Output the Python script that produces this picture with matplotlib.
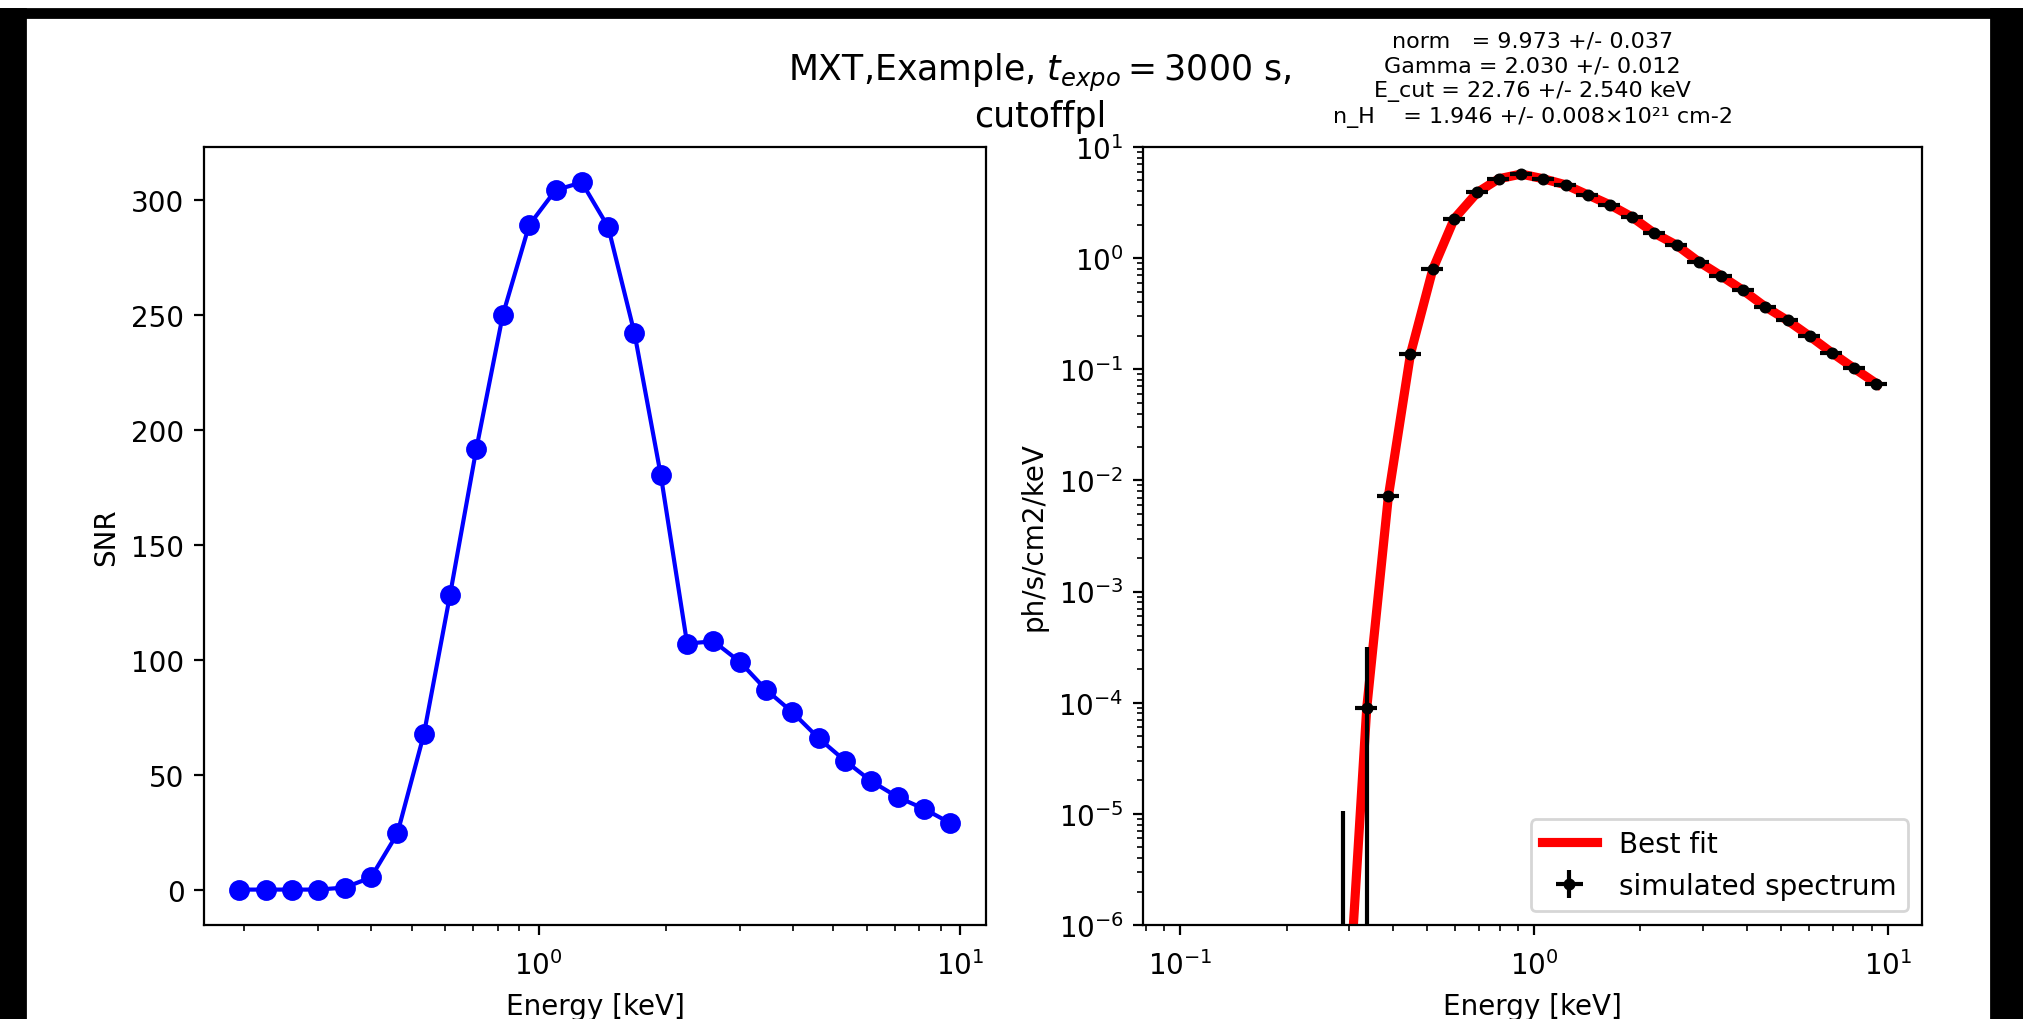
import matplotlib
matplotlib.use('Agg')
import matplotlib.pyplot as plt
from matplotlib.patches import Rectangle

# left panel: SNR per energy bin
energy_snr = [0.195, 0.225, 0.260, 0.300, 0.347, 0.400, 0.462, 0.534, 0.616, 0.711,
              0.822, 0.949, 1.096, 1.265, 1.461, 1.687, 1.948, 2.249, 2.597, 2.999,
              3.463, 3.999, 4.616, 5.331, 6.156, 7.108, 8.208, 9.478]
snr = [0.0, 0.0, 0.0, 0.0, 0.9, 5.3, 24.4, 67.6, 128.2, 191.6,
       250.0, 289.0, 304.2, 307.6, 288.2, 242.0, 180.2, 107.0, 108.0, 99.1,
       86.9, 77.1, 65.8, 56.0, 47.1, 40.2, 35.1, 28.9]

# right panel: simulated spectrum
energy_spec = [0.288, 0.337, 0.388, 0.448, 0.518, 0.596, 0.692, 0.796, 0.921, 1.062,
               1.229, 1.420, 1.639, 1.896, 2.187, 2.530, 2.919, 3.375, 3.901, 4.501,
               5.209, 6.010, 6.947, 8.032, 9.292]
energy_err = [0.021, 0.024, 0.028, 0.032, 0.037, 0.043, 0.050, 0.057, 0.066, 0.076,
              0.088, 0.102, 0.118, 0.137, 0.157, 0.182, 0.210, 0.243, 0.281, 0.324,
              0.375, 0.433, 0.500, 0.578, 0.669]
flux = [0.0, 8.9e-5, 7.2e-3, 0.137, 0.793, 2.27, 3.90, 5.18, 5.71, 5.18,
        4.57, 3.71, 3.02, 2.34, 1.68, 1.31, 0.931, 0.696, 0.513, 0.366,
        0.275, 0.199, 0.141, 0.102, 0.0743]
flux_err = [1.05e-5, 2.27e-4, 3.0e-4, 2.0e-3, 6.0e-3, 0.012, 0.015, 0.017, 0.017, 0.016,
            0.014, 0.012, 0.010, 0.008, 0.006, 0.005, 0.004, 0.003, 0.0025, 0.002,
            0.0016, 0.0013, 0.0010, 0.0008, 0.0006]

# best fit curve
energy_fit = [0.288, 0.309, 0.337, 0.388, 0.448, 0.518, 0.596, 0.692, 0.796, 0.921,
              1.062, 1.229, 1.420, 1.639, 1.896, 2.187, 2.530, 2.919, 3.375, 3.901,
              4.501, 5.209, 6.010, 6.947, 8.032, 9.292, 9.37]
flux_fit = [3e-8, 1e-6, 8.9e-5, 7.2e-3, 0.137, 0.793, 2.27, 3.90, 5.18, 5.71,
            5.18, 4.57, 3.71, 3.02, 2.34, 1.68, 1.31, 0.931, 0.696, 0.513,
            0.366, 0.275, 0.199, 0.141, 0.102, 0.0743, 0.073]

params = ("norm   = 9.973 +/- 0.037\n"
          "Gamma = 2.030 +/- 0.012\n"
          "E_cut = 22.76 +/- 2.540 keV\n"
          "n_H    = 1.946 +/- 0.008\u00d710\u00b2\u00b9 cm-2")

DPI = 200
fig = plt.figure(figsize=(2023 / DPI, 1020 / DPI), dpi=DPI)

ax1 = fig.add_axes([0.1008, 0.0922, 0.3866, 0.7627])
ax1.plot(energy_snr, snr, 'bo-', ms=6.5)
ax1.set_xscale('log')
ax1.set_xlabel('Energy [keV]', labelpad=4.5)
ax1.set_ylabel('SNR')
ax1.tick_params(axis='x', pad=5.5)

ax2 = fig.add_axes([0.565, 0.0922, 0.3851, 0.7627])
ax2.plot(energy_fit, flux_fit, color='red', lw=3.3, label='Best fit')
ax2.errorbar(energy_spec, flux, xerr=energy_err, yerr=flux_err, fmt='o', color='black',
             ms=3.3, label='simulated spectrum')
ax2.set_xscale('log')
ax2.set_yscale('log')
ax2.set_xlim(0.0786, 12.5)
ax2.set_ylim(1e-6, 10)
ax2.set_xlabel('Energy [keV]', labelpad=4.5)
ax2.set_ylabel('ph/s/cm2/keV')
ax2.tick_params(axis='x', pad=5.5)
ax2.set_title(params, fontsize=8, linespacing=1.3, pad=9)
ax2.legend(loc='lower right')

fig.text(0.514, 0.909, 'MXT,Example, $t_{expo} = 3000$ s,\ncutoffpl',
         ha='center', va='center', fontsize=12.5)

# dark screenshot frame
W, H = 2023.0, 1020.0
for x0, y0, w, h in [(0, 1002, 2023, 8), (0, 0, 25, 1010), (1991, 0, 32, 1010)]:
    fig.patches.append(Rectangle((x0 / W, y0 / H), w / W, h / H, transform=fig.transFigure,
                                 color='black', zorder=10))

fig.savefig('out.png', dpi=DPI)
